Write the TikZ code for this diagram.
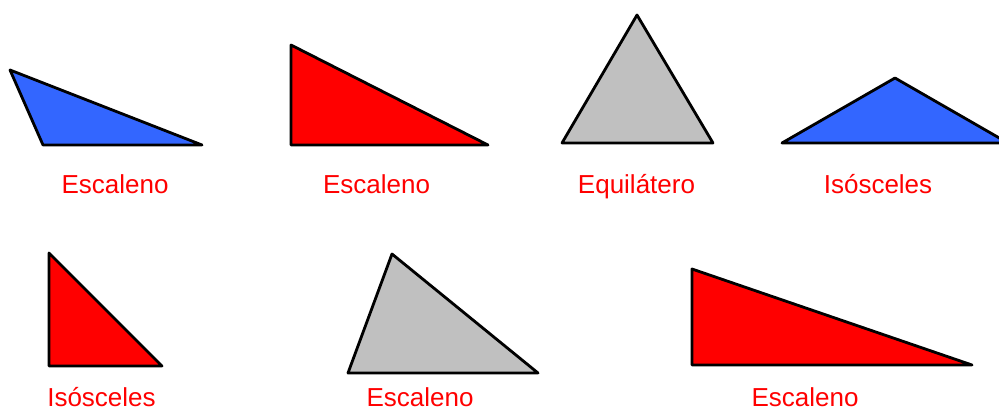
\documentclass[tikz,border=0pt]{standalone}
\usepackage{fontspec}
\setmainfont{Liberation Sans}
\definecolor{triblue}{HTML}{3366FF}
\definecolor{trired}{HTML}{FF0000}
\definecolor{trigray}{HTML}{C0C0C0}
\tikzset{
  tri/.style={draw=black, line width=2.8pt, line join=round},
  lbl/.style={anchor=base, inner sep=0pt, text=trired, font=\fontsize{26}{30}\selectfont}
}
\begin{document}
\begin{tikzpicture}[x=1pt,y=-1pt]
\useasboundingbox (0,0) rectangle (999,411);
\begin{scope}
\clip (0,0) rectangle (999,411);
% row 1
\draw[tri, fill=triblue] (10,70) -- (43,145) -- (202,145) -- cycle;
\draw[tri, fill=trired] (291,45) -- (291,145) -- (488,145) -- cycle;
\draw[tri, fill=trigray] (637,15) -- (562,143) -- (713,143) -- cycle;
\draw[tri, fill=triblue] (895,78) -- (782,143) -- (1008,143) -- cycle;
% row 2
\draw[tri, fill=trired] (49,253) -- (49,366) -- (162,366) -- cycle;
\draw[tri, fill=trigray] (392,254) -- (348,373) -- (538,373) -- cycle;
\draw[tri, fill=trired] (692,269) -- (692,365) -- (972,365) -- cycle;
\end{scope}
% labels
\node[lbl] (l1) at (115,193.5) {Escaleno};
\node[lbl] (l2) at (376.5,193.5) {Escaleno};
\node[lbl] (l3) at (636.5,193.5) {Equilátero};
\node[lbl] (l4) at (878,193.5) {Isósceles};
\node[lbl] (l5) at (101.5,406.5) {Isósceles};
\node[lbl] (l6) at (420,406.5) {Escaleno};
\node[lbl] (l7) at (805,406.5) {Escaleno};
\end{tikzpicture}
\end{document}
